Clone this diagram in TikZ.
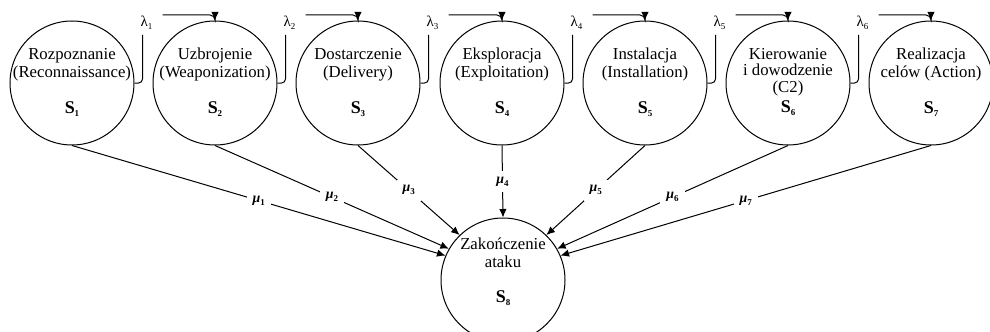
\documentclass[tikz,border=0pt]{standalone}
\usepackage{fontspec}
\setmainfont{Liberation Serif}
\usetikzlibrary{arrows.meta}

% small lowered index for S, lambda and mu
\newcommand{\lowidx}[1]{\raisebox{-3bp}{\fontsize{9}{9}\selectfont #1}}

\tikzset{
  state/.style={circle, draw, line width=1bp, minimum size=124bp, inner sep=0pt},
  stname/.style={font=\fontsize{16.8}{17.5}\selectfont, align=center, anchor=base, inner sep=0pt},
  stsym/.style={font=\fontsize{18}{18}\selectfont\bfseries, anchor=base, inner sep=0pt},
  rate/.style={font=\fontsize{15}{15}\selectfont, inner sep=0pt},
  exitrate/.style={font=\fontsize{14}{14}\selectfont\bfseries, fill=white, inner sep=6bp},
  flow/.style={line width=1bp, -{Latex[length=8.5bp,width=7.5bp]}},
}

\begin{document}
\begin{tikzpicture}[x=1bp, y=1bp]
\useasboundingbox (0,0) rectangle (990,331);

% attack stages
\node[state] (s1) at (72,248) {};
\node[state] (s2) at (215,248) {};
\node[state] (s3) at (358,248) {};
\node[state] (s4) at (502,248) {};
\node[state] (s5) at (645,248) {};
\node[state] (s6) at (788,248) {};
\node[state] (s7) at (931,248) {};
\node[state] (s8) at (503,51) {};

% names sit on the baseline of their last line
\node[stname] (n1) at (72,254) {Rozpoznanie\\(Reconnaissance)};
\node[stname] (n2) at (215,254) {Uzbrojenie\\(Weaponization)};
\node[stname] (n3) at (358,254) {Dostarczenie\\(Delivery)};
\node[stname] (n4) at (502,254) {Eksploracja\\(Exploitation)};
\node[stname] (n5) at (645,254) {Instalacja\\(Installation)};
\node[stname, font=\fontsize{16.8}{16.8}\selectfont] (n6) at (788,238.5) {Kierowanie\\i dowodzenie\\(C2)};
\node[stname] (n7) at (931,254) {Realizacja\\celów (Action)};
\node[stname] (n8) at (503,64) {Zakończenie\\ataku};

\node[stsym] (k1) at (72,218) {S\lowidx{1}};
\node[stsym] (k2) at (215,218) {S\lowidx{2}};
\node[stsym] (k3) at (358,218) {S\lowidx{3}};
\node[stsym] (k4) at (502,218) {S\lowidx{4}};
\node[stsym] (k5) at (645,218) {S\lowidx{5}};
\node[stsym] (k6) at (788,218.5) {S\lowidx{6}};
\node[stsym] (k7) at (931,218) {S\lowidx{7}};
\node[stsym] (k8) at (503,29) {S\lowidx{8}};

% transitions to the next stage
\foreach \i/\j in {1/2,2/3,3/4,4/5,5/6,6/7} {
  \coordinate (a\i) at ([shift={(8,48)}]s\i.east);
  \coordinate (b\i) at ([shift={(28,68)}]s\i.east);
  \node[rate] (l\i) at ([shift={(12,60.5)}]s\i.east) {λ\lowidx{\i}};
  \draw[line width=1bp, rounded corners=4bp] (s\i.east) -| (a\i);
  \draw[flow, rounded corners=5bp] (b\i) -| (s\j.north);
}

% transitions to the end of the attack
\foreach \i/\a in {1/157,2/150,3/134,4/90,5/46,6/30,7/23}
  \draw[flow] (s\i.south) -- (s8.\a)
    node[midway, exitrate] (m\i) {\textit{μ}\lowidx{\i}};
\end{tikzpicture}
\end{document}
